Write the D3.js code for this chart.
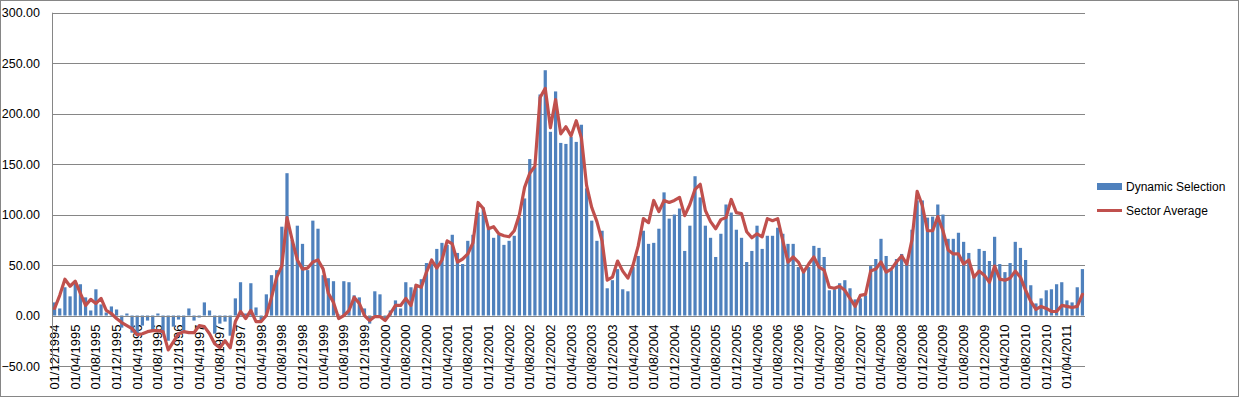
<!DOCTYPE html>
<html>
<head>
<meta charset="utf-8">
<script src="https://cdn.jsdelivr.net/npm/d3@7"></script>
<style>
  html, body { margin: 0; padding: 0; background: #fff; }
  svg text { font-family: "Liberation Sans", Arial, sans-serif; fill: #000; }
</style>
</head>
<body>
<div id="chart"></div>
<script>
// monthly categories, Dec 1994 .. Jul 2011
const months = d3.timeMonth.range(new Date(1994, 11, 1), new Date(2011, 7, 1));
const fmtMonth = d3.timeFormat('%d/%m/%Y');
const categories = months.map(fmtMonth);
// every 4th month gets a label
const tickLabels = categories.filter((d, i) => i % 4 === 0);

const yTicks = [-50, 0, 50, 100, 150, 200, 250, 300];

const seriesNames = ['Dynamic Selection', 'Sector Average'];

const dynamicSelection = [
  13, 7, 28, 19, 34, 31, 18, 5, 26, 11, 3, 9,
  6, -12, 2, -17, -20, -10, -5, -15, 2, -18, -25, -11,
  -4, -15, 7, -5, -2, 13, 5, -18, -8, -6, -20, 17,
  33, 2, 32, 8, -5, 21, 40, 45, 88, 141, 75, 89,
  71, 45, 94, 86, 40, 37, 34, 1, 34, 33, 20, 18,
  7, -8, 24, 21, -3, 5, 15, 7, 33, 28, 31, 36,
  52, 51, 66, 72, 70, 80, 62, 51, 74, 80, 102, 107,
  86, 77, 80, 70, 74, 79, 97, 116, 155, 147, 219, 243,
  182, 222, 171, 170, 177, 172, 189, 126, 94, 74, 84, 27,
  35, 46, 26, 24, 48, 59, 84, 71, 72, 86, 122, 96,
  100, 106, 64, 89, 138, 117, 89, 77, 58, 81, 110, 102,
  85, 77, 53, 64, 89, 66, 79, 79, 87, 81, 71, 71,
  48, 45, 48, 69, 67, 58, 25, 26, 32, 35, 27, 16,
  17, 20, 49, 56, 76, 59, 45, 56, 61, 55, 85, 114,
  114, 97, 98, 110, 100, 76, 76, 82, 73, 62, 39, 66,
  64, 54, 78, 51, 43, 52, 73, 67, 55, 30, 12, 17,
  25, 26, 31, 33, 15, 13, 28, 46
];

const sectorAverage = [
  7, 20, 36, 29, 34, 22, 10, 16, 12, 17, 5, 2,
  -3, -7, -10, -13, -19, -18, -16, -15, -15, -16, -34, -26,
  -18, -16, -17, -17, -10, -11, -18, -28, -32, -25, -32, -6,
  4, -3, 5, -6, -6, 0, 18, 38, 49, 97, 75, 55,
  46, 47, 53, 55, 46, 22, 13, -3, 0, 5, 18, 12,
  0, -5, -1, -1, -5, 2, 10, 10, 17, 10, 30, 28,
  43, 55, 47, 55, 74, 71, 53, 56, 61, 72, 112, 106,
  86, 88, 81, 79, 78, 84, 100, 127, 141, 148, 216, 225,
  186, 214, 180, 187, 178, 193, 176, 129, 107, 93, 74, 35,
  38, 54, 44, 37, 50, 69, 96, 92, 114, 103, 114, 112,
  114, 117, 99, 110, 125, 130, 104, 93, 86, 95, 97, 115,
  102, 101, 83, 77, 81, 78, 96, 94, 96, 74, 53, 58,
  53, 43, 51, 58, 48, 45, 28, 27, 29, 25, 17, 9,
  20, 21, 44, 46, 53, 43, 46, 53, 59, 51, 75, 123,
  109, 84, 84, 98, 84, 65, 61, 61, 51, 55, 38, 44,
  40, 33, 49, 36, 35, 37, 44, 38, 25, 14, 6, 9,
  7, 4, 4, 10, 9, 8, 9, 21
];

const W = 1239, H = 397;
const plot = { left: 52, right: 1085, top: 12.7, bottom: 366 };
const barColor = '#4F81BD';
const lineColor = '#C0504D';
const gridColor = '#868686';

const svg = d3.select('#chart').append('svg')
  .attr('width', W)
  .attr('height', H);

// chart border
svg.append('rect')
  .attr('x', 0.5).attr('y', 0.5)
  .attr('width', W - 1).attr('height', H - 1)
  .attr('fill', '#fff')
  .attr('stroke', gridColor);

const x = d3.scaleBand()
  .domain(categories)
  .range([plot.left, plot.right])
  .paddingInner(0.375)
  .paddingOuter(0.1875);

const y = d3.scaleLinear()
  .domain([-50, 300])
  .range([plot.bottom, plot.top]);

// category labels (drawn first, the -50 gridline runs over them)
svg.append('g')
  .selectAll('text')
  .data(tickLabels)
  .join('text')
  .attr('transform', d => `translate(${x(d) + x.bandwidth() / 2 + 4.5}, ${y(0) + 9}) rotate(-90)`)
  .attr('text-anchor', 'end')
  .style('font-size', '13px')
  .text(d => d);

// gridlines
svg.append('g')
  .selectAll('line')
  .data(yTicks)
  .join('line')
  .attr('x1', plot.left)
  .attr('x2', plot.right)
  .attr('y1', d => Math.round(y(d)) + 0.5)
  .attr('y2', d => Math.round(y(d)) + 0.5)
  .attr('stroke', gridColor);

// value labels
svg.append('g')
  .selectAll('text')
  .data(yTicks)
  .join('text')
  .attr('x', 40)
  .attr('y', d => y(d) + 4.5)
  .attr('text-anchor', 'end')
  .style('font-size', '12.5px')
  .text(d => d3.format('.2f')(d));

// bars
svg.append('g')
  .selectAll('rect')
  .data(dynamicSelection)
  .join('rect')
  .attr('x', (d, i) => x(categories[i]))
  .attr('width', x.bandwidth())
  .attr('y', d => y(Math.max(0, d)))
  .attr('height', d => Math.abs(y(d) - y(0)))
  .attr('fill', barColor);

// axis lines
svg.append('line')
  .attr('x1', plot.left).attr('x2', plot.right)
  .attr('y1', Math.round(y(0)) + 0.5).attr('y2', Math.round(y(0)) + 0.5)
  .attr('stroke', gridColor);
svg.append('line')
  .attr('x1', plot.left + 0.5).attr('x2', plot.left + 0.5)
  .attr('y1', y(300)).attr('y2', y(-50))
  .attr('stroke', gridColor);

// sector average line
const line = d3.line()
  .x((d, i) => x(categories[i]) + x.bandwidth() / 2)
  .y(d => y(d));

svg.append('path')
  .datum(sectorAverage)
  .attr('d', line)
  .attr('fill', 'none')
  .attr('stroke', lineColor)
  .attr('stroke-width', 3.2)
  .attr('stroke-linejoin', 'round')
  .attr('stroke-linecap', 'round');

// legend
const legend = svg.append('g').attr('transform', 'translate(1097, 0)');
legend.append('rect')
  .attr('x', 0).attr('y', 183)
  .attr('width', 25).attr('height', 7)
  .attr('fill', barColor);
legend.append('text')
  .attr('x', 29).attr('y', 191)
  .style('font-size', '12px')
  .text(seriesNames[0]);
legend.append('line')
  .attr('x1', 0).attr('x2', 25)
  .attr('y1', 210.5).attr('y2', 210.5)
  .attr('stroke', lineColor)
  .attr('stroke-width', 3);
legend.append('text')
  .attr('x', 29).attr('y', 215)
  .style('font-size', '12px')
  .text(seriesNames[1]);
</script>
</body>
</html>
